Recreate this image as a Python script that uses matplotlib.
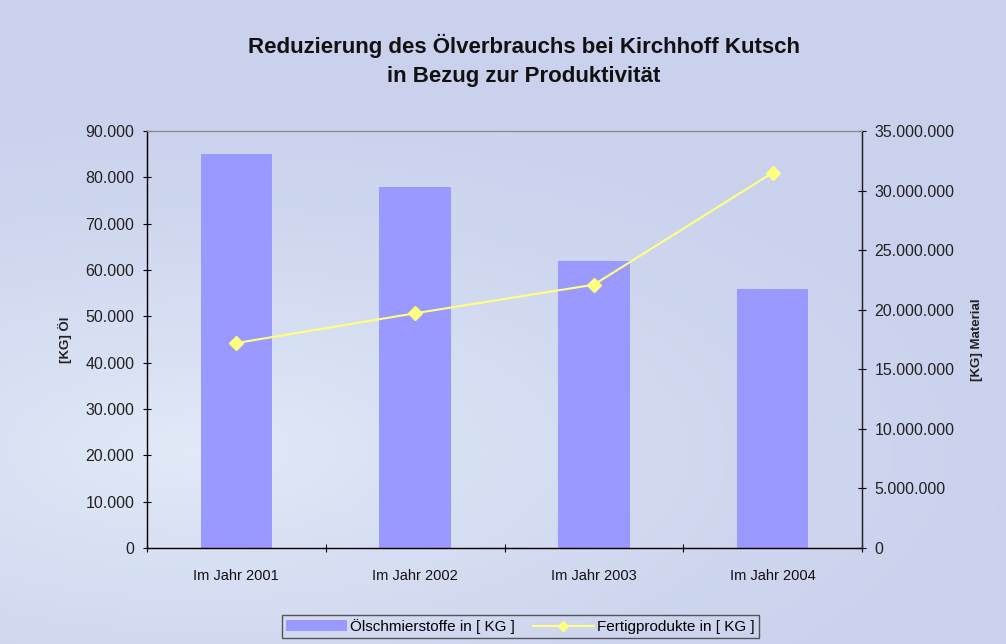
import matplotlib
matplotlib.use("Agg")
import matplotlib.pyplot as plt
import numpy as np
from matplotlib.lines import Line2D
from matplotlib.patches import Patch

categories = ["Im Jahr 2001", "Im Jahr 2002", "Im Jahr 2003", "Im Jahr 2004"]
oil_kg = [85000, 78000, 62000, 56000]
products_kg = [17200000, 19700000, 22100000, 31500000]
left_ticks = [0, 10000, 20000, 30000, 40000, 50000, 60000, 70000, 80000, 90000]
right_ticks = [0, 5000000, 10000000, 15000000, 20000000, 25000000, 30000000, 35000000]

plt.rcParams['font.family'] = ['Liberation Sans', 'DejaVu Sans']

def fmt(v):
    return f"{int(v):,}".replace(",", ".")

fig = plt.figure(figsize=(10.06, 6.44), dpi=100)
fig.patch.set_facecolor("#cbd2ed")

# subtle background gradient
bg = fig.add_axes([0, 0, 1, 1], zorder=-10)
yy, xx = np.mgrid[0:1:200j, 0:1:300j]
light = np.clip(1.0 - np.hypot((xx - 0.2) / 0.9, (yy - 0.3) / 0.6), 0, 1) ** 1.5
c1 = np.array([0.79, 0.82, 0.93])
c2 = np.array([0.88, 0.92, 0.97])
img = c1[None, None, :] * (1 - light[..., None]) + c2[None, None, :] * light[..., None]
bg.imshow(img, origin="lower", extent=[0, 1, 0, 1], aspect="auto")
bg.axis("off")

TICK_FS = 11.5

ax = fig.add_axes([0.1461, 0.1491, 0.7108, 0.6475])
ax.set_facecolor("none")
x = np.arange(len(categories))
ax.bar(x, oil_kg, width=0.4, color="#9999ff", zorder=2)
ax.set_xlim(-0.5, len(categories) - 0.5)
ax.set_ylim(0, 90000)
ax.set_yticks(left_ticks)
ax.set_yticklabels([fmt(v) for v in left_ticks], fontsize=TICK_FS, color="#222222")
ax.set_xticks(x)
ax.set_xticklabels(categories, fontsize=10.5, color="#111111")
ax.set_xticks(np.arange(-0.5, len(categories)), minor=True)
ax.tick_params(axis="x", which="major", length=0, pad=15)
ax.tick_params(axis="x", which="minor", length=6, direction="inout", width=0.8)
ax.tick_params(axis="y", length=6, direction="inout", width=0.8, pad=6)
ax.set_ylabel("[KG] Öl", fontsize=9.5, fontweight="bold", labelpad=10, color="#222222")
for s in ["left", "bottom", "right"]:
    ax.spines[s].set_color("#222222")
    ax.spines[s].set_linewidth(1.0)
ax.spines["top"].set_color("#888888")

ax2 = ax.twinx()
ax2.plot(x, products_kg, color="#ffff80", lw=1.5, marker="D", markersize=7,
         markerfacecolor="#ffff80", markeredgecolor="#ffff80", zorder=3)
ax2.set_ylim(0, 35000000)
ax2.set_yticks(right_ticks)
ax2.set_yticklabels([fmt(v) for v in right_ticks], fontsize=TICK_FS, color="#222222")
ax2.tick_params(axis="y", length=6, direction="inout", width=0.8, pad=6)
ax2.set_ylabel("[KG] Material", fontsize=9.5, fontweight="bold", labelpad=12,
               rotation=90, color="#222222")
ax2.spines["right"].set_color("#222222")
ax2.spines["top"].set_color("#888888")

fig.text(0.521, 0.906, "Reduzierung des Ölverbrauchs bei Kirchhoff Kutsch\nin Bezug zur Produktivität",
         ha="center", va="center", fontsize=16, fontweight="bold", linespacing=1.45,
         color="#111111")

handles = [Patch(facecolor="#9999ff", edgecolor="none"),
           Line2D([0], [0], color="#ffff80", lw=1.5, marker="D", markersize=5,
                  markerfacecolor="#ffff80", markeredgecolor="#ffff80")]
leg = fig.legend(handles, ["Ölschmierstoffe in [ KG ]", "Fertigprodukte in [ KG ]"],
                 loc="center", bbox_to_anchor=(0.517, 0.027), ncol=2, fontsize=11,
                 frameon=True, fancybox=False, edgecolor="#333333", handlelength=4,
                 handletextpad=0.2, columnspacing=1.2, borderpad=0.25)
leg.get_frame().set_facecolor("none")
leg.get_frame().set_linewidth(1.0)

fig.savefig("out.png", dpi=100, facecolor=fig.get_facecolor())
